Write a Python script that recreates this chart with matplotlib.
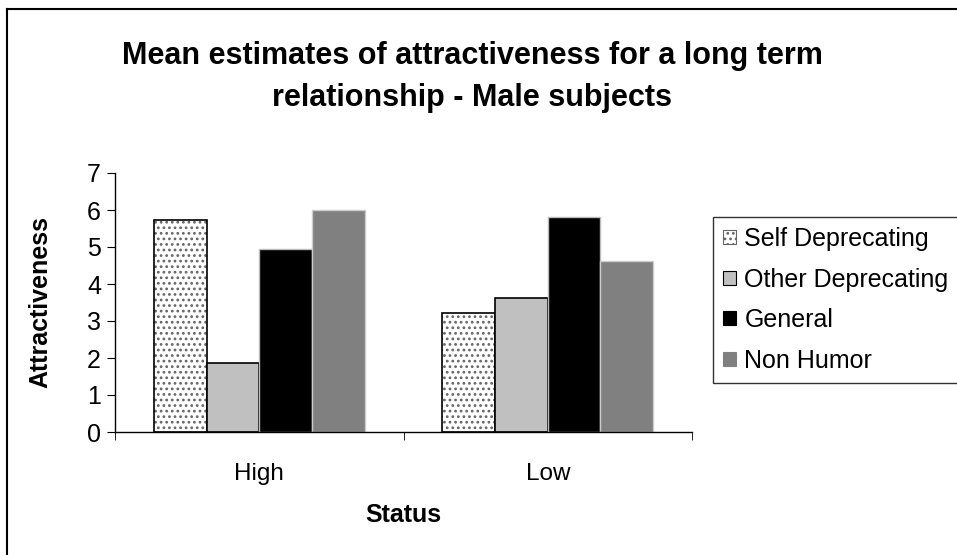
import numpy as np
import matplotlib
matplotlib.use('Agg')
import matplotlib.pyplot as plt
from matplotlib.lines import Line2D
from matplotlib.patches import Patch

# 데이터
status = ['High', 'Low']
series = ['Self Deprecating', 'Other Deprecating', 'General', 'Non Humor']
self_dep = [5.74, 3.21]
other_dep = [1.86, 3.62]
general = [4.95, 5.81]
non_humor = [5.99, 4.62]

plt.rcParams['font.family'] = ['Liberation Sans', 'DejaVu Sans']
plt.rcParams['hatch.linewidth'] = 1.2

fig = plt.figure(figsize=(9.57, 5.55), dpi=100)
ax = fig.add_axes([115/957, 1-432/555, 577/957, 259/555])

x = np.arange(len(status))
w = 0.73 / 4
offs = (np.arange(4) - 1.5) * w

# Self Deprecating: 점무늬
ax.bar(x + offs[0], self_dep, w, color='white', edgecolor='#666666', hatch='...', linewidth=0)
ax.bar(x + offs[0], self_dep, w, fill=False, edgecolor='black', linewidth=1.2)
ax.bar(x + offs[1], other_dep, w, color='#c0c0c0', edgecolor='black', linewidth=1.2)
ax.bar(x + offs[2], general, w, color='black', edgecolor='#bbbbbb', linewidth=1)
ax.bar(x + offs[3], non_humor, w, color='#808080', edgecolor='#cccccc', linewidth=1)

ax.set_xlim(-0.5, 1.5)
ax.set_ylim(0, 7)
ax.set_yticks(range(8))
ax.set_xticks(x)
ax.set_xticklabels(status)
ax.set_xticks([-0.5, 0.5, 1.5], minor=True)
ax.tick_params(axis='x', which='major', length=0, labelsize=17.5, pad=22)
ax.tick_params(axis='x', which='minor', length=6, direction='out')
ax.tick_params(axis='y', length=6, direction='out', labelsize=18, pad=4)
for s in ['top', 'right']:
    ax.spines[s].set_visible(False)
ax.spines['left'].set_linewidth(1)
ax.spines['bottom'].set_linewidth(1)

ax.set_xlabel('Status', fontsize=18, fontweight='bold', labelpad=13)
ax.set_ylabel('Attractiveness', fontsize=18, fontweight='bold', labelpad=25)

fig.text(472/957, 1-77/555, 'Mean estimates of attractiveness for a long term\nrelationship - Male subjects',
         ha='center', va='center', fontsize=22, fontweight='bold', linespacing=1.55)

handles = [
    Patch(facecolor='white', edgecolor='#666666', hatch='...', linewidth=0.8),
    Patch(facecolor='#c0c0c0', edgecolor='black', linewidth=0.8),
    Patch(facecolor='black', edgecolor='black', linewidth=0.8),
    Patch(facecolor='#808080', edgecolor='#808080', linewidth=0.8),
]
leg = fig.legend(handles, series, loc='upper left', bbox_to_anchor=(713/957, 1-217/555),
                 frameon=True, fancybox=False, edgecolor='black', fontsize=18,
                 handlelength=0.5, handleheight=0.5, handletextpad=0.35,
                 labelspacing=0.66, borderpad=0.4, borderaxespad=0)
leg.get_frame().set_linewidth(1)

# 바깥 테두리 (잘린 차트 영역)
fig.add_artist(Line2D([7/957, 7/957], [0, 1-9/555], color='black', lw=1.5, transform=fig.transFigure))
fig.add_artist(Line2D([7/957, 1], [1-9/555, 1-9/555], color='black', lw=1.5, transform=fig.transFigure))

fig.savefig('out.png', dpi=100)
